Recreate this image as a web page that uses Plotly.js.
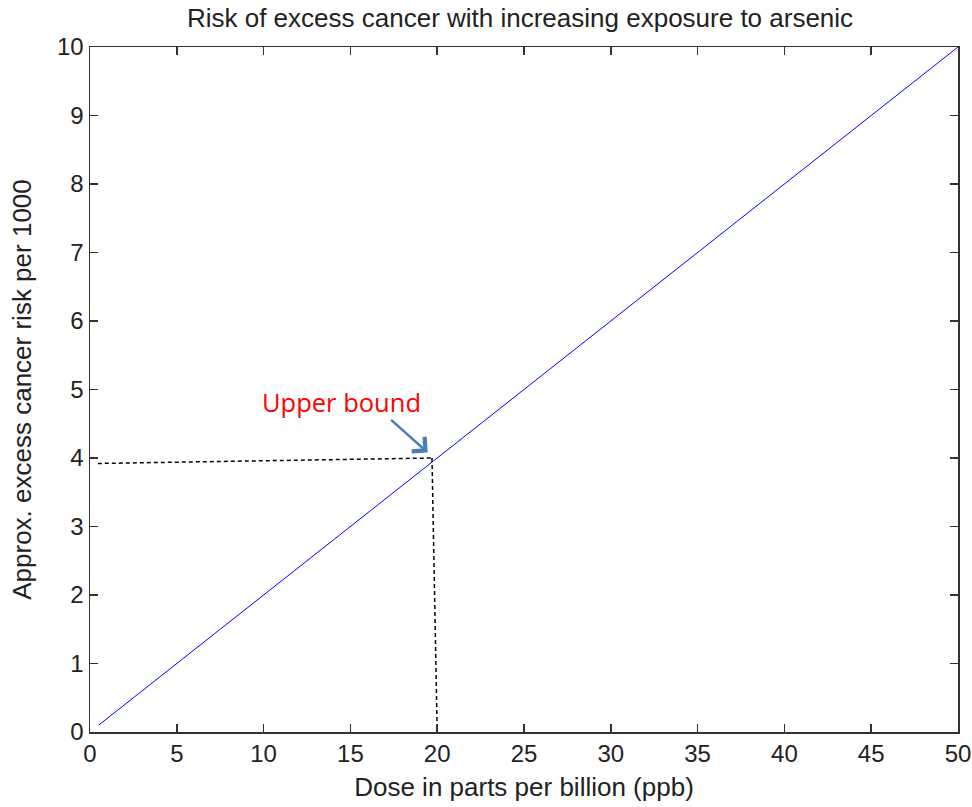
<!DOCTYPE html>
<html>
<head>
<meta charset="utf-8">
<script src="https://cdn.plot.ly/plotly-3.0.1.min.js"></script>
<style>html,body{margin:0;padding:0;background:#fff;}#chart{width:972px;height:807px;}</style>
</head>
<body>
<div id="chart"></div>
<script>
// Data
const dose = [0.5, 50];          // ppb
const risk = [0.1, 10];          // excess cancer risk per 1000
const guideHX = [0.45, 19.7];    // horizontal dashed guide
const guideHY = [3.92, 4.0];
const guideVX = [19.7, 20.0];    // vertical dashed guide
const guideVY = [4.0, 0.0];
const xTicks = [0, 5, 10, 15, 20, 25, 30, 35, 40, 45, 50];
const yTicks = [0, 1, 2, 3, 4, 5, 6, 7, 8, 9, 10];
const arrowTip = {x: 19.45, y: 4.08};
const labelText = "Upper bound";

const font = "Liberation Sans, Arial, sans-serif";
const traces = [
  {x: dose, y: risk, type: 'scatter', mode: 'lines',
   line: {color: '#0000ff', width: 1}, hoverinfo: 'skip'},
  {x: guideHX, y: guideHY, type: 'scatter', mode: 'lines',
   line: {color: '#000000', width: 1.5, dash: '4px,3px'}, hoverinfo: 'skip'},
  {x: guideVX, y: guideVY, type: 'scatter', mode: 'lines',
   line: {color: '#000000', width: 1.5, dash: '4px,3px'}, hoverinfo: 'skip'}
];

const axisCommon = {
  showgrid: false, zeroline: false, showline: true, linecolor: '#333333', linewidth: 1.5,
  mirror: 'ticks', ticks: 'inside', ticklen: 8, tickwidth: 1.5, tickcolor: '#333333',
  tickfont: {family: font, size: 24, color: '#222222'}
};

const layout = {
  width: 972, height: 807,
  margin: {l: 90, r: 14, t: 47, b: 75},
  paper_bgcolor: '#ffffff', plot_bgcolor: '#ffffff',
  showlegend: false,
  title: {text: 'Risk of excess cancer with increasing exposure to arsenic',
          font: {family: font, size: 26, color: '#222222'},
          x: 0.535, xanchor: 'center', y: 0.978, yanchor: 'middle'},
  xaxis: Object.assign({}, axisCommon, {
    range: [0, 50], tickvals: xTicks, ticktext: xTicks.map(String),
    title: {text: 'Dose in parts per billion (ppb)', font: {family: font, size: 26, color: '#222222'}, standoff: 11}
  }),
  yaxis: Object.assign({}, axisCommon, {
    range: [0, 10], tickvals: yTicks, ticktext: yTicks.map(String),
    title: {text: 'Approx. excess cancer risk per 1000', font: {family: font, size: 26, color: '#222222'}, standoff: 18}
  }),
  annotations: [
    {x: arrowTip.x, y: arrowTip.y, xref: 'x', yref: 'y', text: '', showarrow: true,
     ax: -38, ay: -34, arrowcolor: '#4a7ebb', arrowwidth: 2.5, arrowhead: 4, arrowsize: 1.5},
    {x: arrowTip.x, y: arrowTip.y, xref: 'x', yref: 'y', text: labelText, showarrow: false,
     xshift: -86, yshift: 51, font: {family: 'Open Sans, sans-serif', size: 25.5, color: '#ff0000'}}
  ]
};

Plotly.newPlot('chart', traces, layout, {displayModeBar: false, staticPlot: true});
</script>
</body>
</html>
